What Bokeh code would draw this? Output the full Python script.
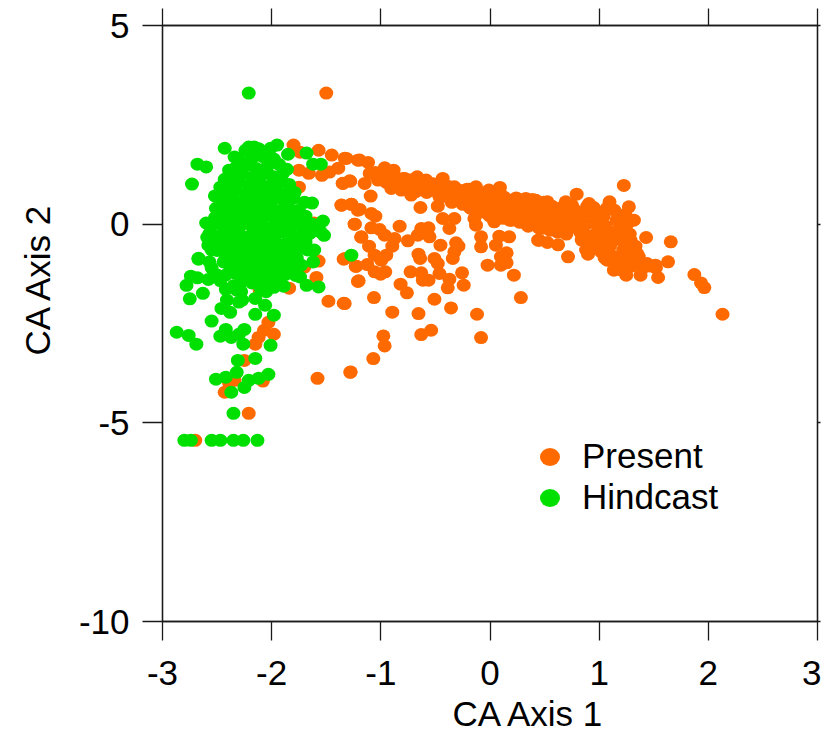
from bokeh.plotting import figure
from bokeh.models import LinearAxis, FixedTicker, Legend, LegendItem, Range1d, ColumnDataSource, Title
from bokeh.embed import file_html
from bokeh.resources import INLINE

x_ticks = [-3, -2, -1, 0, 1, 2, 3]
y_ticks = [-10, -5, 0, 5]

present_x = [
 -1.50,-1.80,-1.74,-1.57,-1.45,-1.33,-1.21,-1.75,-1.66,-1.54,-1.47,-1.39,-1.75,-1.35,-1.28,-1.36,-1.27,-1.21,-1.24,-1.61,-1.18,
 -1.34,-1.23,-1.21,-1.59,-1.48,-1.34,-1.84,-1.57,-1.70,-2.11,-2.03,-2.07,-1.98,-2.12,-2.15,-2.25,-2.34,-2.39,-2.43,-2.08,-2.21,-2.70,-1.58,-1.28,
 -1.315,-1.194,-1.117,-1.102,-1.148,-1.285,-1.346,-1.093,-0.965,-0.883,-0.904,-1.026,-0.798,-0.813,-0.722,-0.667,-0.585,-0.637,-0.433,-0.326,-0.478,-0.433,-0.326,-0.372,
 -0.128,-0.006,0.091,-0.143,-0.128,0.039,-0.082,-0.082,0.054,0.085,0.176,0.328,0.450,
 -1.270,-1.361,-1.194,-1.087,-1.050,-1.239,-1.087,-1.011,-0.828,-0.965,-1.178,-1.108,-0.874,-0.895,-0.752,-0.661,-0.630,-0.563,-0.554,-0.454,-0.311,-0.289,-0.326,-0.341,
 -0.655,-0.640,-0.509,-0.478,-1.057,-0.950,-0.996,-1.331,-1.224,-1.124,-1.057,-1.002,-0.959,-0.728,-0.630,-0.615,-0.563,-0.463,-0.372,-0.387,-0.256,-0.241,
 -0.022,0.100,0.152,0.152,0.100,0.219,0.283,-0.819,-0.761,-0.509,-1.203,-1.063,-1.331,-0.895,-0.655,-0.357,-0.119,-0.977,-0.965,-0.630,-0.539,-0.082,-1.069,-1.276,
 1.226,0.794,0.907,1.095,1.272,1.318,1.430,1.656,1.631,0.715,0.898,1.540,1.379,1.248,1.135,1.872,1.933,1.963,2.130,0.441,0.526,0.624,0.526,0.694,
 1.439,1.516,1.287,1.333,1.363,1.242,1.181,1.074,
 -1.00,-0.95,-0.90,-0.85,-0.76,-0.72,-0.70,-0.65,-0.60,-0.58,-0.52,-0.50,-0.47,-0.44,-0.40,-0.37,-0.34,-0.30,-0.27,-0.22,-0.20,-0.17,-0.14,-0.10,-0.08,-0.05,-0.03,
 0.00,0.02,0.05,0.07,0.10,0.12,0.15,0.17,0.20,0.22,0.25,0.28,0.30,0.33,0.36,0.38,0.40,0.42,0.45,0.47,0.50,0.52,0.54,0.57,0.60,0.62,0.65,0.67,0.70,0.72,
 0.78,0.80,0.82,0.84,0.86,0.88,0.90,0.92,0.94,0.96,0.98,1.00,1.02,1.04,1.06,1.08,1.10,1.12,1.14,1.16,1.18,1.20,1.22,1.24,1.26,1.28,1.30,1.32,1.36,1.40,1.46,1.52,1.26,1.30,1.18,
 -1.05,-0.98,-0.92,-0.87,-0.81,-0.75,-0.68,-0.62,-0.55,-0.49,-0.42,-0.36,-0.31,-0.25,-0.19,-0.12,-0.06,-0.01,0.04,0.09,0.14,0.19,0.24,0.29,0.34,0.39,0.44,0.49,0.53,0.58,0.63,0.68,0.73,0.77,
 -0.78,-0.69,-0.57,-0.46,-0.38,-0.29,-0.21,-0.13,-0.07,-0.02,0.03,0.08,0.13,0.18,0.23,0.27,0.32,0.37,0.43,0.48,0.55,0.61,0.66,0.71,0.75,0.83,0.89,0.95,1.01,1.07,1.13,
 1.00,1.10,1.15,1.05,1.20,0.95,0.88,1.25,1.35,1.10,
 0.35,0.45,0.55,0.62,0.70,0.30,0.20,0.12,0.00,-0.10,-0.18,-0.25,-0.35,
]
present_y = [
 3.30,1.99,1.81,1.86,1.74,1.66,1.61,1.36,1.28,1.23,1.31,1.41,0.93,1.03,1.08,0.48,0.50,0.35,0.00,0.03,-0.33,
 -0.88,-1.06,-1.44,-1.34,-1.94,-1.99,-1.61,-0.93,-1.08,-1.66,-2.47,-2.67,-2.77,-2.85,-3.02,-3.43,-3.93,-4.00,-4.23,-3.95,-4.76,-5.44,-3.88,-3.73,
 1.654,1.612,1.554,1.277,1.025,1.092,1.025,0.706,1.419,1.360,0.899,1.109,1.151,0.857,0.731,1.193,1.109,0.420,1.151,0.941,0.454,0.143,0.143,-0.109,
 0.941,0.815,0.924,0.143,-0.025,0.059,-0.319,-0.571,-0.529,-0.302,-0.319,0.647,-0.403,
 0.504,0.479,0.370,0.269,0.202,0.000,-0.092,-0.134,-0.050,-0.277,-0.319,-0.554,-0.361,-0.554,-0.420,-0.277,-0.109,-0.092,-0.319,-0.529,-0.470,-0.554,-0.697,-0.864,
 -0.755,-0.864,-0.864,-0.990,-0.781,-0.781,-0.906,-0.864,-1.058,-1.016,-1.200,-1.259,-1.200,-1.200,-1.225,-1.410,-1.410,-1.242,-1.385,-1.603,-1.225,-1.536,
 -1.032,-1.032,-0.974,-0.722,-0.822,-1.284,-1.847,-1.511,-1.729,-1.889,-1.427,-1.847,-1.998,-2.216,-2.250,-2.107,-2.267,-2.812,-3.064,-2.779,-2.670,-2.854,-3.383,-3.719,
 0.974,0.756,0.520,0.562,0.437,0.101,-0.336,-0.445,-0.949,-0.823,-0.756,-1.343,-1.285,-1.285,-1.159,-1.268,-1.478,-1.595,-2.267,-0.403,-0.462,-0.520,0.562,0.562,
 -0.991,-1.033,-0.403,-0.554,-0.823,-0.907,-0.991,-0.907,
 1.20,1.05,1.20,1.05,1.00,1.12,0.90,1.02,0.92,0.80,1.02,0.88,0.75,0.98,0.85,0.70,0.80,0.62,0.85,0.72,0.58,0.80,0.66,0.50,0.76,0.60,0.38,
 0.70,0.50,0.28,0.68,0.42,0.58,0.25,0.45,0.60,0.35,0.48,0.18,0.38,0.55,0.25,0.42,0.10,0.60,0.32,0.15,0.50,0.05,0.28,0.45,-0.05,0.20,0.40,0.05,0.30,-0.10,
 0.35,0.10,-0.15,-0.40,0.25,0.00,-0.30,-0.55,0.30,0.05,-0.20,-0.45,-0.70,0.20,-0.05,-0.30,-0.55,-0.80,0.35,0.10,-0.15,-0.40,-0.65,0.25,0.02,-0.25,-0.65,-0.90,-0.95,-1.10,-1.05,-1.10,-1.10,-1.05,-0.85,
 1.30,1.14,1.02,0.95,1.08,0.95,0.82,0.95,0.88,1.00,0.70,0.92,0.75,0.60,0.88,0.52,0.70,0.86,0.40,0.78,0.55,0.32,0.66,0.50,0.22,0.62,0.42,0.55,0.20,0.35,0.12,0.25,0.38,0.15,
 1.15,1.02,1.00,0.68,0.95,0.72,0.88,0.35,0.55,0.25,0.78,0.15,0.68,0.10,0.52,0.05,0.62,0.00,0.50,-0.10,0.35,0.12,0.42,-0.12,0.48,-0.22,0.45,0.42,0.10,0.40,-0.35,
 0.30,0.40,-0.95,-0.85,-1.15,-0.60,-0.65,-0.85,-0.75,-0.20,
 -0.05,-0.10,-0.15,-0.20,-0.25,0.05,0.10,0.15,0.20,0.30,0.40,0.50,0.55,
]

hindcast_x = [
 -2.21,-2.43,-1.95,-2.01,-2.68,-2.60,-2.73,-1.68,-1.62,-1.55,-1.85,-2.39,-2.43,-2.47,-2.52,-2.51,-2.60,-1.53,-1.52,-2.58,-2.67,-1.27,-1.61,-1.63,-1.70,-2.34,-2.21,-2.16,
 -2.67,-2.74,-2.68,-2.78,-2.63,-2.75,-2.58,-2.50,-2.42,-2.55,-2.87,-2.76,-2.69,-2.42,-2.47,-2.37,-2.25,-2.30,-2.26,-2.01,-2.31,-2.15,-2.32,-2.42,-2.51,-2.03,-2.12,-2.21,-2.25,-2.37,-2.35,
 -2.80,-2.74,-2.55,-2.47,-2.35,-2.26,-2.13,
 -2.15,-1.98,-2.06,-2.38,-2.46,-2.41,-2.30,-2.15,-1.74,-1.89,-1.98,-1.57,-1.62,
 -2.24,-2.12,-2.05,-2.30,-2.18,-2.08,-1.98,-2.33,-2.24,-2.14,-2.04,-1.93,-1.86,
 -2.35,-2.27,-2.18,-2.09,-1.99,-1.90,-2.38,-2.30,-2.21,-2.11,-2.02,-1.93,-1.84,
 -2.42,-2.33,-2.24,-2.13,-2.05,-1.95,-1.86,-1.79,-2.44,-2.36,-2.27,-2.17,-2.08,-1.98,-1.89,-1.80,
 -2.49,-2.40,-2.31,-2.22,-2.12,-2.03,-1.94,-1.84,-1.75,-2.52,-2.42,-2.34,-2.25,-2.15,-2.05,-1.96,-1.87,-1.77,-1.69,
 -2.55,-2.46,-2.37,-2.28,-2.18,-2.09,-2.00,-1.90,-1.80,-1.72,-1.63,-2.57,-2.47,-2.39,-2.29,-2.20,-2.10,-2.01,-1.91,-1.82,-1.73,-1.65,
 -2.55,-2.44,-2.36,-2.26,-2.16,-2.06,-1.97,-1.87,-1.78,-1.69,-2.50,-2.41,-2.32,-2.22,-2.13,-2.03,-1.94,-1.84,-1.75,-1.67,
 -2.42,-2.33,-2.24,-2.15,-2.05,-1.96,-1.86,-1.77,-2.38,-2.30,-2.20,-2.10,-2.01,-1.91,-1.81,
 -2.33,-2.25,-2.15,-2.06,-1.96,-1.87,-2.27,-2.18,-2.09,-2.00,-1.92,
 -2.59,-2.55,-2.57,-2.44,-2.42,-2.32,-2.27,-1.73,-1.64,-1.55,-1.68,-1.78,-2.55,-2.35,-2.47,-2.10,-2.28,-2.05,-1.85,
]
hindcast_y = [
 3.30,1.91,1.99,1.91,1.51,1.44,1.01,1.79,1.51,1.51,1.76,1.36,1.13,0.93,0.71,0.40,0.03,0.08,-0.28,-0.53,-0.86,-0.78,-0.65,0.53,0.55,1.69,1.94,1.94,
 -0.88,-1.31,-1.35,-1.54,-1.74,-1.88,-1.39,-1.28,-1.64,-2.44,-2.72,-2.80,-3.02,-2.65,-2.82,-2.85,-2.65,-2.77,-3.02,-3.05,-3.43,-3.38,-3.73,-3.85,-3.90,-3.78,-3.88,-3.93,-4.11,-4.23,-4.76,
 -5.44,-5.44,-5.44,-5.44,-5.44,-5.44,-5.44,
 -2.27,-2.29,-2.04,-2.22,-2.12,-1.91,-1.96,-1.87,-1.33,-1.56,-1.59,-1.58,-0.95,
 1.86,1.90,1.78,1.62,1.66,1.70,1.64,1.42,1.47,1.40,1.45,1.50,1.38,
 1.22,1.27,1.18,1.24,1.20,1.26,1.00,1.05,0.98,1.03,0.96,1.06,1.00,
 0.78,0.84,0.76,0.82,0.79,0.85,0.74,0.80,0.58,0.62,0.55,0.60,0.56,0.63,0.59,0.65,
 0.36,0.42,0.34,0.40,0.37,0.43,0.33,0.39,0.35,0.16,0.20,0.13,0.19,0.15,0.22,0.12,0.18,0.14,0.20,
 -0.04,0.00,-0.07,-0.02,-0.05,0.02,-0.08,-0.03,0.01,-0.06,0.00,-0.24,-0.28,-0.21,-0.26,-0.30,-0.22,-0.27,-0.20,-0.25,-0.29,-0.23,
 -0.46,-0.42,-0.48,-0.44,-0.40,-0.47,-0.43,-0.49,-0.41,-0.45,-0.66,-0.62,-0.68,-0.64,-0.60,-0.67,-0.63,-0.69,-0.61,-0.65,
 -0.86,-0.82,-0.88,-0.84,-0.80,-0.87,-0.83,-0.85,-1.06,-1.02,-1.08,-1.04,-1.00,-1.07,-1.03,
 -1.24,-1.28,-1.22,-1.27,-1.21,-1.26,-1.44,-1.48,-1.42,-1.46,-1.41,
 -0.33,-0.65,-0.95,-0.95,-1.28,-1.66,-1.91,-1.03,-0.65,-0.20,-1.54,-1.29,-1.10,-1.55,-1.42,-1.62,-1.70,-1.70,-1.20,
]

FONT = "Liberation Sans"
ORANGE = "#ff6a00"
GREEN = "#00e000"
INK = "#1a1a1a"
FS = "35px"

p = figure(width=821, height=736, output_backend="svg", toolbar_location=None,
           x_range=Range1d(-3, 3), y_range=Range1d(-10, 5),
           x_axis_location=None, y_axis_location=None,
           min_border_left=162, min_border_right=4, min_border_top=25, min_border_bottom=115,
           background_fill_color="white", border_fill_color="white")
p.grid.visible = False
p.outline_line_color = INK
p.outline_line_width = 1.3


def mk_axis(ticks, tick_out, labelled):
    a = LinearAxis(ticker=FixedTicker(ticks=ticks))
    a.axis_line_color = INK
    a.axis_line_width = 1.3
    a.major_tick_line_color = INK
    a.major_tick_line_width = 1.3
    a.major_tick_in = 0
    a.major_tick_out = tick_out
    a.minor_tick_line_color = None
    if labelled:
        a.major_label_overrides = {t: str(t) for t in ticks}
        a.major_label_text_font = FONT
        a.major_label_text_font_size = FS
        a.major_label_text_color = "black"
    else:
        a.major_label_overrides = {t: "" for t in ticks}
        a.major_label_text_font_size = "1px"
        a.major_label_standoff = 0
    return a


bottom = mk_axis(x_ticks, 19, True)
bottom.major_label_standoff = 20
left = mk_axis(y_ticks, 20, True)
left.major_label_standoff = 13
p.add_layout(bottom, "below")
p.add_layout(left, "left")
p.add_layout(mk_axis(x_ticks, 17, False), "above")
p.add_layout(mk_axis(y_ticks, 3, False), "right")

src_present = ColumnDataSource(dict(x=present_x, y=present_y))
src_hindcast = ColumnDataSource(dict(x=hindcast_x, y=hindcast_y))
p.ellipse("x", "y", source=src_present, width=14, height=13, width_units="screen", height_units="screen",
          fill_color=ORANGE, line_color=None)
p.ellipse("x", "y", source=src_hindcast, width=14, height=13, width_units="screen", height_units="screen",
          fill_color=GREEN, line_color=None)

nan = float("nan")
key_present = p.ellipse([nan], [nan], width=20, height=18, width_units="screen", height_units="screen",
                        fill_color=ORANGE, line_color=None)
key_hindcast = p.ellipse([nan], [nan], width=20, height=18, width_units="screen", height_units="screen",
                         fill_color=GREEN, line_color=None)
legend = Legend(items=[LegendItem(label="Present", renderers=[key_present]),
                       LegendItem(label="Hindcast", renderers=[key_hindcast])],
                location=(375, 104), orientation="vertical", background_fill_alpha=0, border_line_color=None,
                label_text_font=FONT, label_text_font_size=FS, label_text_color="black",
                glyph_width=25, glyph_height=25, label_standoff=20, spacing=1, padding=5, margin=0,
                label_height=38)
p.add_layout(legend, "center")

title_below = Title(text="CA Axis 1", align="left", offset=290, standoff=8, vertical_align="bottom", text_font=FONT,
                    text_font_size=FS, text_color="black", text_font_style="normal")
title_left = Title(text="CA Axis 2", align="left", offset=266, standoff=33, vertical_align="top", text_font=FONT,
                   text_font_size=FS, text_color="black", text_font_style="normal")
p.add_layout(title_below, "below")
p.add_layout(title_left, "left")

open("out.html", "w").write(file_html(p, INLINE))
